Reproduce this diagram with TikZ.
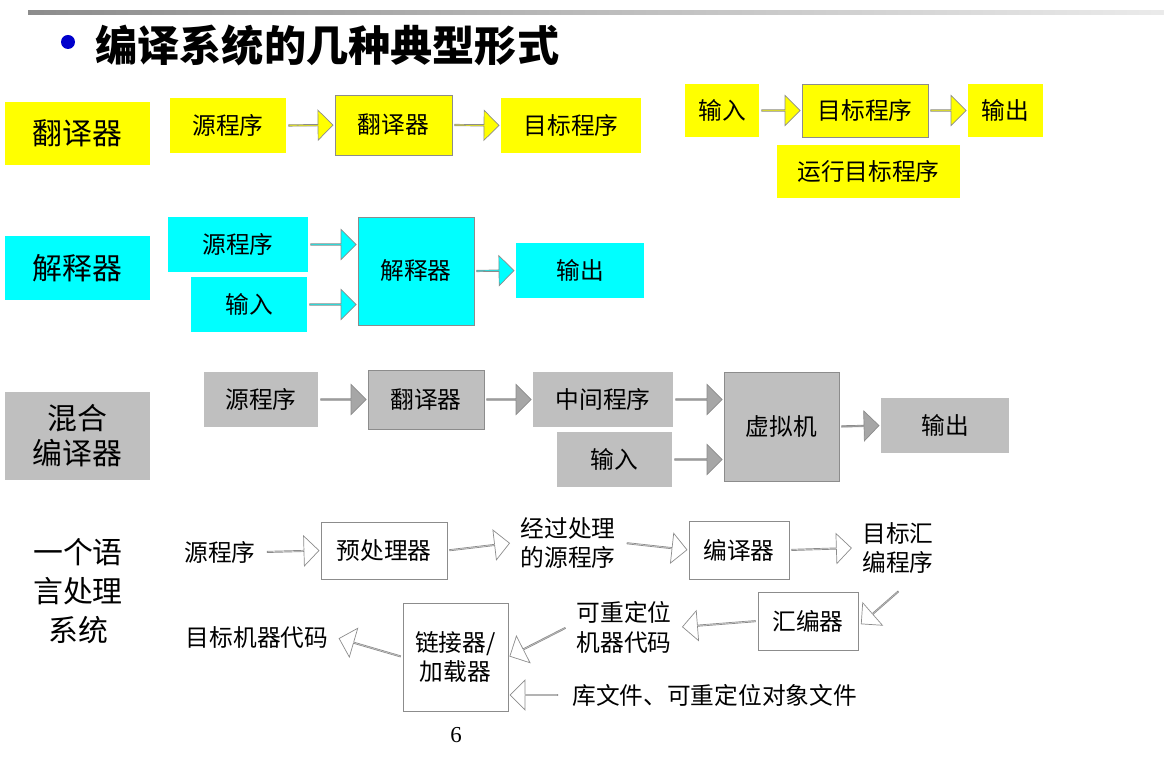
\documentclass[tikz,border=0pt]{standalone}
\usepackage{fontspec}
\setmainfont{Noto Sans CJK SC}
\newfontfamily\serif{Liberation Serif}
\usetikzlibrary{shapes.arrows,calc}
\newlength\px \setlength\px{0.02cm}
\definecolor{yel}{RGB}{255,255,0}
\definecolor{cya}{RGB}{0,255,255}
\definecolor{gry}{RGB}{191,191,191}
\tikzset{
  box/.style={inner sep=0pt, font=\fontsize{13.5}{16}\selectfont, align=center},
  lab/.style={box, font=\fontsize{17}{20}\selectfont},
  framed/.style={draw=black!45, thin},
  txt/.style={inner sep=9\px, font=\fontsize{13.5}{17}\selectfont, align=left},
  fat arrow/.style={single arrow, inner sep=0pt, minimum width=30\px,
    single arrow head extend=7\px, single arrow head indent=0pt,
    single arrow tip angle=90, draw=black!45, thin},
}
% block arrow between two points
\newcommand{\fatarrow}[3][]{%
  \path let \p1=($(#3)-(#2)$), \n1={veclen(\x1,\y1)}, \n2={atan2(\y1,\x1)} in
    node[fat arrow,#1,minimum height=\n1-4\px,rotate=\n2] at ($(#2)!0.5!(#3)$) {};}
\begin{document}
\begin{tikzpicture}[x=0.02cm,y=-0.02cm]
  \useasboundingbox (0,0) rectangle (1164,766);
  \shade[left color=black!45, right color=black!8] (28,11) rectangle (1164,15);
  \fill[blue!80!black] (68,42) circle (7);
  \node[anchor=west, inner sep=0pt, font=\fontsize{24}{28}\selectfont\bfseries] (title) at (95,45) {编译系统的几种典型形式};

  % translator
  \begin{scope}[every node/.append style={fill=yel}]
    \node[lab, minimum width=145\px, minimum height=63\px] (lab1) at (77.5,133.5) {翻译器};
    \node[box, minimum width=116\px, minimum height=55\px] (s1) at (228,125.5) {源程序};
    \node[box, framed, minimum width=117\px, minimum height=60\px] (t1) at (393.5,125) {翻译器};
    \node[box, minimum width=140\px, minimum height=55\px] (o1) at (571,125.5) {目标程序};
    \node[box, minimum width=74\px, minimum height=53\px] (in1) at (722,110.5) {输入};
    \node[box, framed, minimum width=126\px, minimum height=53\px] (p1) at (865,110.5) {目标程序};
    \node[box, minimum width=75\px, minimum height=53\px] (out1) at (1005.5,110.5) {输出};
    \node[box, minimum width=183\px, minimum height=53\px] (run) at (868.5,171.5) {运行目标程序};
  \end{scope}
  \fatarrow[fill=yel]{s1.east}{t1.west}
  \fatarrow[fill=yel]{t1.east}{o1.west}
  \fatarrow[fill=yel]{in1.east}{p1.west}
  \fatarrow[fill=yel]{p1.east}{out1.west}

  % interpreter
  \begin{scope}[every node/.append style={fill=cya}]
    \node[lab, minimum width=145\px, minimum height=64\px] (lab2) at (77.5,268) {解释器};
    \node[box, minimum width=140\px, minimum height=55\px] (s2) at (238,244.5) {源程序};
    \node[box, minimum width=116\px, minimum height=55\px] (in2) at (249,304.5) {输入};
    \node[box, framed, minimum width=116\px, minimum height=108\px] (i2) at (416,271) {解释器};
    \node[box, minimum width=128\px, minimum height=55\px] (out2) at (580,270.5) {输出};
  \end{scope}
  \coordinate (i2a) at (i2.west |- s2.east);
  \coordinate (i2b) at (i2.west |- in2.east);
  \fatarrow[fill=cya]{s2.east}{i2a}
  \fatarrow[fill=cya]{in2.east}{i2b}
  \fatarrow[fill=cya]{i2.east}{out2.west}

  % hybrid
  \begin{scope}[every node/.append style={fill=gry}]
    \node[lab, minimum width=145\px, minimum height=88\px] (lab3) at (77.5,436) {混合\\编译器};
    \node[box, minimum width=114\px, minimum height=55\px] (s3) at (261,399.5) {源程序};
    \node[box, framed, minimum width=116\px, minimum height=59\px] (t3) at (426,399.5) {翻译器};
    \node[box, minimum width=140\px, minimum height=55\px] (m3) at (603,399.5) {中间程序};
    \node[box, minimum width=115\px, minimum height=55\px] (in3) at (614.5,459.5) {输入};
    \node[box, framed, minimum width=115\px, minimum height=109\px] (vm) at (781.5,426.5) {虚拟机};
    \node[box, minimum width=128\px, minimum height=55\px] (out3) at (945,425.5) {输出};
  \end{scope}
  \coordinate (vma) at (vm.west |- m3.east);
  \coordinate (vmb) at (vm.west |- in3.east);
  \fatarrow[fill=black!35]{s3.east}{t3.west}
  \fatarrow[fill=black!35]{t3.east}{m3.west}
  \fatarrow[fill=black!35]{m3.east}{vma}
  \fatarrow[fill=black!35]{in3.east}{vmb}
  \fatarrow[fill=black!35]{vm.east}{out3.west}

  % language processing system
  \node[txt, align=center, font=\fontsize{17}{22}\selectfont] (lab4) at (78,591) {一个语\\言处理\\系统};
  \node[txt] (src4) at (220,552) {源程序};
  \node[box, framed, minimum width=126\px, minimum height=57\px] (pre) at (384,550.5) {预处理器};
  \node[txt] (proc) at (568,543) {经过处理\\的源程序};
  \node[box, framed, minimum width=100\px, minimum height=58\px] (comp) at (739,550) {编译器};
  \node[txt] (asmsrc) at (898,548) {目标汇\\编程序};
  \node[box, framed, minimum width=100\px, minimum height=58\px] (asm) at (808,621) {汇编器};
  \node[txt] (reloc) at (624,627) {可重定位\\机器代码};
  \node[box, framed, minimum width=105\px, minimum height=108\px] (link) at (455.5,657) {链接器/\\加载器};
  \node[txt] (target) at (257,638) {目标机器代码};
  \node[txt, anchor=west, inner sep=0pt] (lib) at (572,695) {库文件、可重定位对象文件};
  \node[inner sep=0pt, font=\serif\fontsize{13}{15}\selectfont] (page) at (456,735) {6};
  \coordinate (asmfrom) at (900,590);
  \coordinate (asmto) at (860,625);
  \coordinate (libfrom) at ($(lib.west)+(-12,0)$);
  \coordinate (libin) at (link.east |- lib.west);
  \tikzset{fat arrow/.append style={fill=white, minimum width=30\px, single arrow head extend=8\px}}
  \fatarrow{src4.east}{pre.west}
  \fatarrow{pre.east}{proc.west}
  \fatarrow{proc.east}{comp.west}
  \fatarrow{comp.east}{asmsrc.west}
  \fatarrow{asmfrom}{asmto}
  \fatarrow{asm.west}{reloc.east}
  \fatarrow{reloc.west}{link.east}
  \fatarrow{libfrom}{libin}
  \fatarrow{link.west}{target.east}
\end{tikzpicture}
\end{document}
